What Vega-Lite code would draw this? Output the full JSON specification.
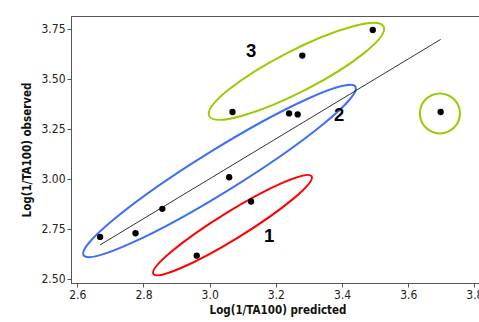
{
  "$schema": "https://vega.github.io/schema/vega-lite/v6.json",
  "autosize": {"type": "none"},
  "padding": {"left": 71, "top": 16, "right": 0, "bottom": 39},
  "width": 413,
  "height": 267,
  "config": {
    "view": {"stroke": "#555", "strokeWidth": 1},
    "axis": {
      "grid": false,
      "domainColor": "#555",
      "tickColor": "#555",
      "tickSize": 4,
      "labelFont": "DejaVu Sans Condensed",
      "labelFontSize": 12,
      "labelColor": "#222",
      "titleFont": "DejaVu Sans Condensed",
      "titleFontSize": 11.5,
      "titleFontWeight": "bold",
      "titleColor": "#111"
    }
  },
  "encoding": {
    "x": {
      "field": "x", "type": "quantitative",
      "scale": {"domain": [2.581, 3.829], "nice": false, "zero": false},
      "axis": {"title": "Log(1/TA100) predicted", "values": [2.6, 2.8, 3.0, 3.2, 3.4, 3.6, 3.8], "format": ".1f", "titlePadding": 4}
    },
    "y": {
      "field": "y", "type": "quantitative",
      "scale": {"domain": [2.4785, 3.813], "nice": false, "zero": false},
      "axis": {"title": "Log(1/TA100) observed", "values": [2.5, 2.75, 3.0, 3.25, 3.5, 3.75], "format": ".2f", "titlePadding": 8}
    }
  },
  "layer": [
    {
      "data": {"values": [{"cluster": "1", "x": 3.069, "y": 2.768}]},
      "mark": {"type": "point", "shape": "M-1,0A1,0.145 0 1,0 1,0A1,0.145 0 1,0 -1,0", "size": 34596, "angle": -31.7, "filled": false, "stroke": "#ff0000", "strokeWidth": 2, "opacity": 1}
    },
    {
      "data": {"values": [{"cluster": "2", "x": 3.0296, "y": 3.0383}]},
      "mark": {"type": "point", "shape": "M-1,0A1,0.131 0 1,0 1,0A1,0.131 0 1,0 -1,0", "size": 102400, "angle": -31.8, "filled": false, "stroke": "#3f6ff5", "strokeWidth": 2, "opacity": 1}
    },
    {
      "data": {"values": [{"cluster": "3", "x": 3.2622, "y": 3.5363}]},
      "mark": {"type": "point", "shape": "M-1,0A1,0.21 0 1,0 1,0A1,0.21 0 1,0 -1,0", "size": 38416, "angle": -27.2, "filled": false, "stroke": "#99cc00", "strokeWidth": 2, "opacity": 1}
    },
    {
      "data": {"values": [{"cluster": "outlier", "x": 3.6958, "y": 3.326}]},
      "mark": {"type": "point", "shape": "circle", "size": 1600, "filled": false, "stroke": "#99cc00", "strokeWidth": 2, "opacity": 1}
    },
    {
      "data": {"values": [{"x": 2.669, "y": 2.669}, {"x": 3.698, "y": 3.696}]},
      "mark": {"type": "line", "color": "#000", "strokeWidth": 0.8}
    },
    {
      "data": {"values": [
        {"x": 2.669, "y": 2.709},
        {"x": 2.776, "y": 2.727},
        {"x": 2.857, "y": 2.849},
        {"x": 2.961, "y": 2.615},
        {"x": 3.059, "y": 3.007},
        {"x": 3.125, "y": 2.886},
        {"x": 3.069, "y": 3.333},
        {"x": 3.240, "y": 3.326},
        {"x": 3.266, "y": 3.321},
        {"x": 3.280, "y": 3.615},
        {"x": 3.493, "y": 3.743},
        {"x": 3.698, "y": 3.333}
      ]},
      "mark": {"type": "point", "shape": "circle", "filled": true, "color": "#000", "size": 40, "opacity": 1}
    },
    {
      "data": {"values": [
        {"label": "1", "x": 3.180, "y": 2.715},
        {"label": "2", "x": 3.391, "y": 3.316},
        {"label": "3", "x": 3.125, "y": 3.636}
      ]},
      "mark": {"type": "text", "font": "Liberation Sans", "fontWeight": "bold", "fontSize": 18.5, "color": "#000", "baseline": "middle", "align": "center"},
      "encoding": {"text": {"field": "label"}}
    }
  ]
}
